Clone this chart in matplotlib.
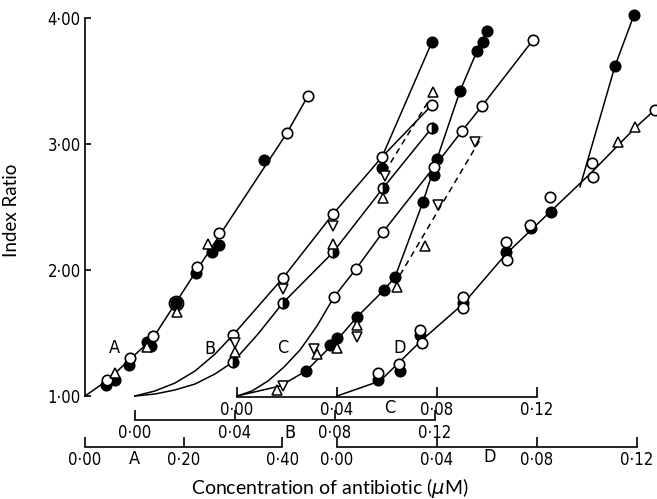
import numpy as np
import matplotlib.pyplot as plt
from matplotlib.ticker import FuncFormatter

# ---------------- data (concentration in uM, index ratio) ----------------
# curve A  (scale 0 - 0.40)
A_line_c = [0.0, 0.044, 0.138, 0.227, 0.272, 0.410, 0.452]
A_line_y = [1.0, 1.12, 1.46, 2.00, 2.27, 3.09, 3.38]
A_open_c = [0.044, 0.091, 0.138, 0.227, 0.272, 0.410, 0.452]
A_open_y = [1.13, 1.30, 1.48, 2.02, 2.29, 3.09, 3.38]
A_fill_c = [0.042, 0.061, 0.089, 0.126, 0.134, 0.185, 0.225, 0.258, 0.272, 0.363]
A_fill_y = [1.09, 1.13, 1.25, 1.43, 1.40, 1.74, 1.98, 2.14, 2.20, 2.87]
A_ring_c = [0.185]
A_ring_y = [1.74]
A_tri_c = [0.061, 0.126, 0.187, 0.249]
A_tri_y = [1.18, 1.39, 1.67, 2.21]

# curve B  (scale 0 - 0.12)
B_up_c = [0.0, 0.008, 0.016, 0.024, 0.032, 0.0392, 0.0592, 0.0792, 0.0988, 0.1188]
B_up_y = [1.0, 1.040, 1.103, 1.198, 1.333, 1.484, 1.937, 2.444, 2.897, 3.31]
B_lo_c = [0.0, 0.008, 0.016, 0.024, 0.032, 0.0392, 0.0492, 0.0592, 0.0792, 0.0992, 0.1188]
B_lo_y = [1.0, 1.016, 1.048, 1.095, 1.175, 1.27, 1.492, 1.74, 2.14, 2.65, 3.13]
B_steep_c = [0.0988, 0.1188]
B_steep_y = [2.897, 3.81]
B_dash_c = [0.100, 0.118]
B_dash_y = [2.78, 3.36]
B_open_c = [0.0392, 0.0592, 0.0792, 0.0988, 0.1188]
B_open_y = [1.484, 1.937, 2.444, 2.897, 3.31]
B_half_c = [0.0392, 0.0592, 0.0792, 0.0992, 0.1188]
B_half_y = [1.27, 1.74, 2.14, 2.65, 3.13]
B_fill_c = [0.0988, 0.1188]
B_fill_y = [2.81, 3.81]
B_tri_c = [0.040, 0.0792, 0.0992, 0.1192]
B_tri_y = [1.35, 2.21, 2.57, 3.41]
B_dtri_c = [0.040, 0.0592, 0.0792, 0.100]
B_dtri_y = [1.42, 1.85, 2.35, 2.75]

# curve C  (scale 0 - 0.12)
C_open_line_c = [0.0, 0.006, 0.0124, 0.0188, 0.0252, 0.032, 0.0388, 0.0476, 0.0584, 0.0788, 0.090, 0.098, 0.1184]
C_open_line_y = [1.0, 1.040, 1.119, 1.230, 1.365, 1.556, 1.786, 2.008, 2.302, 2.817, 3.103, 3.302, 3.825]
C_open_c = [0.0388, 0.0476, 0.0584, 0.0788, 0.090, 0.098, 0.1184]
C_open_y = [1.786, 2.008, 2.302, 2.817, 3.103, 3.302, 3.825]
C_fill_line_c = [0.0, 0.0172, 0.0276, 0.040, 0.048, 0.0588, 0.0632, 0.0744, 0.080, 0.0892, 0.096, 0.100]
C_fill_line_y = [1.0, 1.079, 1.198, 1.444, 1.627, 1.841, 1.944, 2.54, 2.881, 3.42, 3.738, 3.897]
C_fill_c = [0.0276, 0.0372, 0.040, 0.048, 0.0588, 0.0632, 0.0744, 0.0788, 0.080, 0.0892, 0.096, 0.0984, 0.100]
C_fill_y = [1.198, 1.405, 1.46, 1.627, 1.841, 1.944, 2.54, 2.754, 2.881, 3.42, 3.738, 3.81, 3.897]
C_tri_c = [0.016, 0.032, 0.040, 0.048, 0.064]
C_tri_y = [1.05, 1.33, 1.38, 1.56, 1.865]
C_dtri_c = [0.0184, 0.0308, 0.048]
C_dtri_y = [1.08, 1.37, 1.47]
C_dash_c = [0.0652, 0.098]
C_dash_y = [1.96, 3.06]
C_dash_tri_c = [0.0752]
C_dash_tri_y = [2.19]
C_dash_dtri_c = [0.0804, 0.0952]
C_dash_dtri_y = [2.516, 3.016]

# curve D  (scale 0 - 0.12)
D_line_c = [0.0, 0.0172, 0.0344, 0.0504, 0.0676, 0.0856, 0.102, 0.1192, 0.128]
D_line_y = [1.0, 1.119, 1.452, 1.730, 2.127, 2.468, 2.778, 3.127, 3.286]
D_steep_c = [0.0972, 0.1112, 0.1188]
D_steep_y = [2.66, 3.619, 4.024]
D_open_c = [0.0164, 0.0248, 0.0332, 0.034, 0.0504, 0.0504, 0.0676, 0.068, 0.0772, 0.0852, 0.102, 0.1024, 0.1272]
D_open_y = [1.183, 1.254, 1.524, 1.42, 1.786, 1.70, 2.22, 2.08, 2.357, 2.579, 2.849, 2.738, 3.27]
D_fill_c = [0.0164, 0.0252, 0.0332, 0.0504, 0.0676, 0.0776, 0.0856, 0.1112, 0.1188]
D_fill_y = [1.127, 1.198, 1.484, 1.738, 2.143, 2.333, 2.46, 3.619, 4.024]
D_tri_c = [0.1124, 0.1192]
D_tri_y = [3.016, 3.135]

y_ticks = [1, 2, 3, 4]

# ---------------- layout (pixels of the 657x499 figure) ----------------
W, H = 657, 499
L, R, BOT, TOP = 85, 657, 396, 18
rect = [L / W, 1 - BOT / H, (R - L) / W, (BOT - TOP) / H]

narrow = dict(family='DejaVu Sans', stretch='condensed')
fmt = FuncFormatter(lambda v, p: f"{v:.2f}".replace('.', '\u00b7'))

fig = plt.figure(figsize=(W / 100, H / 100), dpi=100)
ax = fig.add_axes(rect)
ax.set_ylim(1, 4)
ax.set_xlim(0, 1)
ax.set_xticks([])
for s in ['top', 'right', 'bottom']:
    ax.spines[s].set_visible(False)
ax.spines['left'].set_bounds(1, 4)
ax.spines['left'].set_linewidth(1.2)
ax.set_yticks(y_ticks)
ax.yaxis.set_major_formatter(fmt)
ax.tick_params(axis='y', direction='in', length=4, width=1.2, pad=3, labelsize=12)
for t in ax.get_yticklabels():
    t.set_family(narrow['family'])
    t.set_stretch(narrow['stretch'])
ax.patch.set_visible(False)


def conc_axes(origin, px_per_unit, ticks, offset_px):
    a = fig.add_axes(rect, sharey=ax)
    a.set_xlim((L - origin) / px_per_unit, (R - origin) / px_per_unit)
    a.patch.set_visible(False)
    for s in ['top', 'right', 'left']:
        a.spines[s].set_visible(False)
    a.tick_params(axis='y', left=False, labelleft=False)
    sp = a.spines['bottom']
    sp.set_position(('outward', offset_px * 72 / 100))
    sp.set_bounds(ticks[0], ticks[-1])
    sp.set_linewidth(1.2)
    a.set_xticks(ticks)
    a.xaxis.set_major_formatter(fmt)
    a.tick_params(axis='x', direction='in', length=7, width=1.2, pad=3, labelsize=12)
    for t in a.get_xticklabels():
        t.set_family(narrow['family'])
        t.set_stretch(narrow['stretch'])
    return a


axA = conc_axes(85, 493, [0, 0.2, 0.4], 51)
axB = conc_axes(135, 2500, [0, 0.04, 0.08, 0.12], 24)
axC = conc_axes(237, 2500, [0, 0.04, 0.08, 0.12], 1)
axD = conc_axes(337, 2500, [0, 0.04, 0.08, 0.12], 51)

lw = 1.1
ms = 7.5
op = dict(ls='none', marker='o', ms=ms, mfc='white', mec='black', mew=1.2, clip_on=False, zorder=4)
fl = dict(ls='none', marker='o', ms=ms, mfc='black', mec='black', mew=1.2, clip_on=False, zorder=3)
tri = dict(ls='none', marker='^', ms=7, mfc='white', mec='black', mew=1.1, clip_on=False, zorder=5)
dtri = dict(ls='none', marker='v', ms=7, mfc='white', mec='black', mew=1.1, clip_on=False, zorder=5)
ln = dict(color='black', lw=lw, clip_on=False, zorder=2)
dl = dict(color='black', lw=lw, ls=(0, (4, 3)), clip_on=False, zorder=2)

# A
axA.plot(A_line_c, A_line_y, **ln)
axA.plot(A_fill_c, A_fill_y, **fl)
axA.plot(A_open_c, A_open_y, **op)
axA.plot(A_ring_c, A_ring_y, ls='none', marker='o', ms=10, mfc='none', mec='black', mew=1.4, zorder=4)
axA.plot(A_tri_c, A_tri_y, **tri)

# B
axB.plot(B_up_c, B_up_y, **ln)
axB.plot(B_lo_c, B_lo_y, **ln)
axB.plot(B_steep_c, B_steep_y, **ln)
axB.plot(B_dash_c, B_dash_y, **dl)
axB.plot(B_fill_c, B_fill_y, **fl)
axB.plot(B_half_c, B_half_y, ls='none', marker='o', ms=ms, fillstyle='right', mfc='black',
         markerfacecoloralt='white', mec='black', mew=1.2, zorder=4)
axB.plot(B_open_c, B_open_y, **op)
axB.plot(B_tri_c, B_tri_y, **tri)
axB.plot(B_dtri_c, B_dtri_y, **dtri)

# C
axC.plot(C_open_line_c, C_open_line_y, **ln)
axC.plot(C_fill_line_c, C_fill_line_y, **ln)
axC.plot(C_dash_c, C_dash_y, **dl)
axC.plot(C_fill_c, C_fill_y, **fl)
axC.plot(C_open_c, C_open_y, **op)
axC.plot(C_tri_c, C_tri_y, **tri)
axC.plot(C_dtri_c, C_dtri_y, **dtri)
axC.plot(C_dash_tri_c, C_dash_tri_y, **tri)
axC.plot(C_dash_dtri_c, C_dash_dtri_y, **dtri)

# D
axD.plot(D_line_c, D_line_y, **ln)
axD.plot(D_steep_c, D_steep_y, **ln)
axD.plot(D_fill_c, D_fill_y, **fl)
axD.plot(D_open_c, D_open_y, **op)
axD.plot(D_tri_c, D_tri_y, **tri)

# curve letters and scale letters
lab = dict(fontsize=13, ha='center', va='center', **narrow)
axA.text(0.059, 1.38, 'A', **lab)
axB.text(0.030, 1.37, 'B', **lab)
axC.text(0.0184, 1.38, 'C', **lab)
axD.text(0.0252, 1.38, 'D', **lab)
axA.text(0.10, 0.50, 'A', **lab)
axB.text(0.062, 0.706, 'B', **lab)
axC.text(0.0612, 0.905, 'C', **lab)
axD.text(0.0612, 0.516, 'D', **lab)

fig.text(12 / W, 1 - 210 / H, 'Index Ratio', rotation=90, ha='center', va='center',
         family=['Lato', 'DejaVu Sans'], fontsize=13.5)
fig.text(330 / W, 1 - 488 / H, 'Concentration of antibiotic ($\\mu$M)', ha='center', va='center',
         family=['Lato', 'DejaVu Sans'], fontsize=14)

fig.savefig('out.png', dpi=100)
